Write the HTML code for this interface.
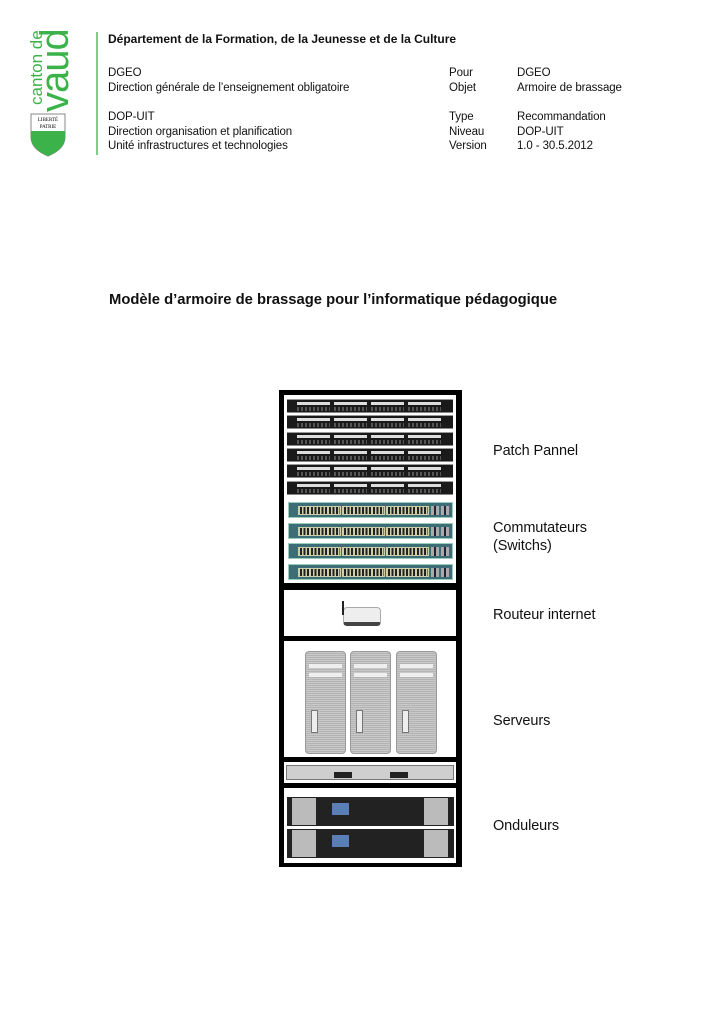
<!DOCTYPE html>
<html><head><meta charset="utf-8"><style>
*{margin:0;padding:0;box-sizing:border-box}
body{width:724px;height:1024px;background:#fff;position:relative;overflow:hidden;font-family:"Liberation Sans",sans-serif;color:#111}
.t{position:absolute;font-size:11.5px;line-height:14.5px;white-space:nowrap;letter-spacing:-0.1px}
.a{position:absolute}
.pp{position:absolute;left:287px;width:166px;height:14px;background:#1a1a1a;border-top:1px solid #999;border-bottom:1px solid #888}
.pp i{position:absolute;top:2px;width:33px;height:3px;background:#ddd}
.pp b{position:absolute;top:7px;width:33px;height:4px;background:repeating-linear-gradient(90deg,#555 0 2px,#1a1a1a 2px 4px)}
.sw{position:absolute;left:288px;width:165px;height:16px;background:#3d6e78;border:1px solid #9cb}
.sw b{position:absolute;top:3px;height:9px;width:43px;background:repeating-linear-gradient(90deg,#cdcfa8 0 1px,#222 1px 3px,#cdcfa8 3px 3.6px);border:1px solid #cdcfa8}
.sw u{position:absolute;top:3px;left:142px;width:18px;height:9px;background:repeating-linear-gradient(90deg,#aaa 0 3px,#223 3px 5px,#aaa 5px 8px, #3d6e78 8px 10px)}
.srv{position:absolute;top:651px;width:41px;height:103px;border-radius:4px;background:repeating-linear-gradient(0deg,#c9c9c9 0 1px,#b4b4b4 1px 2px);border:1px solid #999}
.srv:before{content:"";position:absolute;left:3px;right:3px;top:12px;height:4px;background:#eee;box-shadow:0 9px 0 #eee}
.srv:after{content:"";position:absolute;left:5px;top:58px;width:5px;height:21px;background:#eee;border:1px solid #777}
.ups{position:absolute;left:287px;width:167px;height:29px;background:#222}
</style></head><body>
<!-- logo -->
<div class="a" style="left:96px;top:32px;width:2px;height:123px;background:#7ccf86"></div>
<div class="t" style="left:30px;top:105px;transform:rotate(-90deg);transform-origin:0 0;font-size:17px;color:#3cb34a;letter-spacing:0">canton de</div>
<div class="t" style="left:40px;top:112px;transform:rotate(-90deg);transform-origin:0 0;font-size:40px;line-height:30px;color:#3cb34a;letter-spacing:-1px">vaud</div>
<svg class="a" style="left:30px;top:113px" width="36" height="44"><path d="M1 1H35V24Q35 36 18 43Q1 36 1 24Z" fill="#fff" stroke="#888"/><path d="M1 18H35V24Q35 36 18 43Q1 36 1 24Z" fill="#3cb34a"/><text x="18" y="8" font-size="5" text-anchor="middle" font-family="Liberation Serif">LIBERTÉ</text><text x="18" y="15" font-size="5" text-anchor="middle" font-family="Liberation Serif">PATRIE</text></svg>
<div class="t" style="left:108px;top:32px;font-weight:bold;font-size:12px;letter-spacing:0">Département de la Formation, de la Jeunesse et de la Culture</div>
<div class="t" style="left:108px;top:66px">DGEO<br>Direction générale de l’enseignement obligatoire</div>
<div class="t" style="left:108px;top:110px">DOP-UIT<br>Direction organisation et planification<br>Unité infrastructures et technologies</div>
<div class="t" style="left:449px;top:66px">Pour<br>Objet</div>
<div class="t" style="left:449px;top:110px">Type<br>Niveau<br>Version</div>
<div class="t" style="left:517px;top:66px">DGEO<br>Armoire de brassage</div>
<div class="t" style="left:517px;top:110px">Recommandation<br>DOP-UIT<br>1.0 - 30.5.2012</div>
<div class="t" style="left:109px;top:291px;font-size:14.8px;line-height:18px;font-weight:bold;letter-spacing:0">Modèle d’armoire de brassage pour l’informatique pédagogique</div>
<!-- rack -->
<div class="a" style="left:279px;top:390px;width:183px;height:477px;background:#000"></div>
<div class="a" style="left:284px;top:395px;width:172px;height:188px;background:#fff"></div>
<div class="a" style="left:284px;top:590px;width:172px;height:46px;background:#fff"></div>
<div class="a" style="left:284px;top:641px;width:172px;height:116px;background:#fff"></div>
<div class="a" style="left:284px;top:762px;width:172px;height:21px;background:#fff"></div>
<div class="a" style="left:284px;top:788px;width:172px;height:75px;background:#fff"></div>
<div id="pp"></div>
<!-- router -->
<div class="a" style="left:343px;top:607px;width:38px;height:19px;background:#eee;border:1px solid #aaa;border-radius:4px;border-bottom:4px solid #444"></div>
<div class="a" style="left:342px;top:601px;width:2px;height:14px;background:#222"></div>
<div class="srv" style="left:305px"></div><div class="srv" style="left:350px"></div><div class="srv" style="left:396px"></div>
<!-- 1U -->
<div class="a" style="left:286px;top:765px;width:168px;height:15px;background:#cfcfcf;border:1px solid #777"></div>
<div class="a" style="left:334px;top:772px;width:18px;height:6px;background:#222"></div>
<div class="a" style="left:390px;top:772px;width:18px;height:6px;background:#222"></div>
<div class="ups" style="top:797px"></div><div class="ups" style="top:829px"></div>
<div class="a" style="left:292px;top:798px;width:24px;height:27px;background:#bbb"></div>
<div class="a" style="left:424px;top:798px;width:24px;height:27px;background:#bbb"></div>
<div class="a" style="left:292px;top:830px;width:24px;height:27px;background:#bbb"></div>
<div class="a" style="left:424px;top:830px;width:24px;height:27px;background:#bbb"></div>
<div class="a" style="left:332px;top:803px;width:17px;height:12px;background:#5a7fb5"></div>
<div class="a" style="left:332px;top:835px;width:17px;height:12px;background:#5a7fb5"></div>
<div class="t" style="left:493px;top:442px;font-size:14.5px;line-height:18px">Patch Pannel</div>
<div class="t" style="left:493px;top:519px;font-size:14.5px;line-height:18px">Commutateurs<br>(Switchs)</div>
<div class="t" style="left:493px;top:606px;font-size:14.5px;line-height:18px">Routeur internet</div>
<div class="t" style="left:493px;top:712px;font-size:14.5px;line-height:18px">Serveurs</div>
<div class="t" style="left:493px;top:817px;font-size:14.5px;line-height:18px">Onduleurs</div>
<script>
var h='';
for(var r=0;r<6;r++){var y=399+r*16.3;h+='<div class="pp" style="top:'+y+'px">';for(var k=0;k<4;k++){var x=10+k*37;h+='<i style="left:'+x+'px"></i><b style="left:'+x+'px"></b>';}h+='</div>';}
var sy=[502,523,543,564];
for(var s=0;s<4;s++){h+='<div class="sw" style="top:'+sy[s]+'px">';for(var k=0;k<3;k++)h+='<b style="left:'+(9+k*44)+'px"></b>';h+='<u></u></div>';}
document.getElementById('pp').outerHTML=h;
</script>
</body></html>
